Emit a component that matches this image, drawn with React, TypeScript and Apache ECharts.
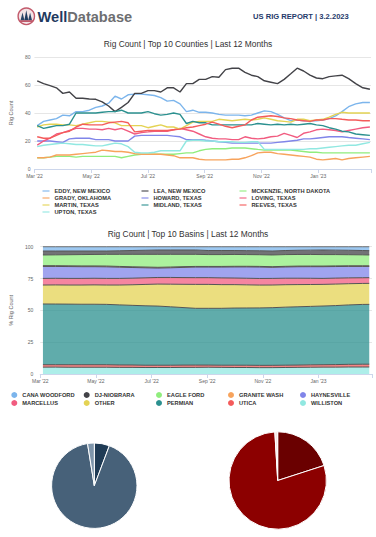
import React, { useEffect, useRef } from "react";
import * as echarts from "echarts";

// ---------- DATA ----------
const WEEKS = [
  "2022-03-04","2022-03-11","2022-03-18","2022-03-25","2022-04-01","2022-04-08","2022-04-15","2022-04-22","2022-04-29",
  "2022-05-06","2022-05-13","2022-05-20","2022-05-27","2022-06-03","2022-06-10","2022-06-17","2022-06-24",
  "2022-07-01","2022-07-08","2022-07-15","2022-07-22","2022-07-29","2022-08-05","2022-08-12","2022-08-19","2022-08-26",
  "2022-09-02","2022-09-09","2022-09-16","2022-09-23","2022-09-30","2022-10-07","2022-10-14","2022-10-21","2022-10-28",
  "2022-11-04","2022-11-11","2022-11-18","2022-11-25","2022-12-02","2022-12-09","2022-12-16","2022-12-23","2022-12-30",
  "2023-01-06","2023-01-13","2023-01-20","2023-01-27","2023-02-03","2023-02-10","2023-02-17","2023-02-24"
];

const MONTH_LABELS = ["Mar '22", "May '22", "Jul '22", "Sep '22", "Nov '22", "Jan '23"];

const COUNTIES = [
  "EDDY, NEW MEXICO","LEA, NEW MEXICO","MCKENZIE, NORTH DAKOTA","GRADY, OKLAHOMA","HOWARD, TEXAS",
  "LOVING, TEXAS","MARTIN, TEXAS","MIDLAND, TEXAS","REEVES, TEXAS","UPTON, TEXAS"
];
const COUNTY_COLORS = ["#7cb5ec","#434348","#90ed7d","#f7a35c","#8085e9","#f15c80","#e4d354","#2b908f","#f45b5b","#91e8e1"];

const EDDY = [31,34,35,36,38.5,38,41,41,42,44,45,47,52,50,53,53.5,53.5,53,52.5,51,48.5,49,46.5,
  41,42,40.5,40.5,40,39,38.5,38.5,38.5,38,38.5,40,41.5,41,39,36.5,34.5,35,34.5,34.5,34.5,35,36,38,41,44.5,46.5,47.5,47.5];
const LEA = [63,61,59.5,58,54,55,50.5,50.5,50,49.8,48,45,41,44,47.5,54,54,56,56,55,58,58,55,61,61,
  64,64,66,65.5,71,72,72,69,67,66,63,62,61,64,68,72,70,67,65,64.5,66,66.5,67,64.5,61,58,57];
const MCKENZIE = [8,8,8.5,9,9,9,8.5,9,9,9,9,9,9,8,9,10,10.5,10.5,10.5,10.5,10.5,10.5,11,11.5,11.5,
  13,14,14.5,14.5,14.5,15,15,15,14.5,14,13.5,13.5,13.5,13.5,13.5,13,12.5,12,12,11.5,11.5,11.5,11.5,11.5,11.5,11.5,11.5];
const GRADY = [8,8,8.5,10,10,10,10.5,11,11.5,12,13.5,13,12.5,12.5,12,11,10.5,10.5,10.5,10.5,10,9.5,8,8,8,
  7,6.5,6.5,6.5,6.5,7,7,8,9.5,11.5,12,12,11,10.5,10,9.5,9,8.5,7,6.5,7,7.5,6.5,7.5,8,8.5,9];
const HOWARD = [20,20,20,19.5,19,21.5,22,22,22,21,21,21,20,20,20,23.5,24,24,24,24,24,23.5,23,21,21,
  21,20.5,20,19.5,19,18.5,18.5,18.5,18.5,18.5,18.5,18.5,19,19.5,20,20.5,21.5,21.5,22,22.5,23,23,23,22.5,22,21.5,21];
const LOVING = [17,20,22,25,26,27.5,29,29,28.5,28.5,28,29,28,29,27,25,26,26.5,27,27,27,28,29,28,27,
  25,23,22,21.5,21.5,21,21,23,22,21.5,22,23,23.5,25.5,24,22.5,25.5,26.5,28,28.5,28,27.5,26.5,27.5,28.5,29.5,30];
const MARTIN = [30,31.5,32,32,31.5,31.5,31,32,33,34,34,33.5,33,31,31,31,31,29.5,30.5,31.5,30,30,28.5,31,33.5,
  34,34,34,35.5,35,34.5,35,35.5,35,35.5,36.5,35.5,34.5,34,33.5,35.5,35.5,34.5,35,35.5,37,39,40.5,40,40,40,40];
const MIDLAND = [31,29,30,31,31,32,40,40,40,40,40.5,41,41,42,40,40,40,41,39.5,38.5,39,40,39,32.5,34,
  33,33,31.5,31.5,31.5,31.5,31.5,31.5,31.5,32.5,32,31.5,32,31.5,32,31.5,32,32.5,31.5,31,29.5,28.5,27,26.5,25,24.5,24];
const REEVES = [23,22,22,24,26,27,30,32,31.5,31.5,31.5,33,33.5,34,33,26.5,27,27.5,27.5,27.5,27.5,28,28.5,29.5,30,
  31,32,33.5,32,30.5,29.5,30.5,31.5,35,37,37.5,38,37.5,36.5,36,35,34.5,34,35,35,36,36,35.5,35,35,34.5,34.5];
const UPTON = [16,17,17.5,18,18.5,18,17.5,17.5,17,16.5,16.5,17.5,18.5,18,16,12,11.5,11.5,12,13,13,13,13,20,20.5,
  20.5,20,20,19.5,19.5,19.5,19,19,19.5,19.5,14,14,14,14,14,14,14,14.5,14.5,15,15.5,16,16.5,17,17,18,19];
const COUNTY_VALUES = [EDDY, LEA, MCKENZIE, GRADY, HOWARD, LOVING, MARTIN, MIDLAND, REEVES, UPTON];

const BASIN_DATES = [
  "2022-03-04","2022-03-18","2022-04-01","2022-04-15","2022-04-29","2022-05-13","2022-05-27","2022-06-10","2022-06-24",
  "2022-07-08","2022-07-22","2022-08-05","2022-08-19","2022-09-02","2022-09-16","2022-09-30","2022-10-14","2022-10-28",
  "2022-11-11","2022-11-25","2022-12-09","2022-12-23","2023-01-06","2023-01-20","2023-02-03","2023-02-17","2023-02-24"
];
const BASINS = ["CANA WOODFORD","DJ-NIOBRARA","EAGLE FORD","GRANITE WASH","HAYNESVILLE","MARCELLUS","OTHER","PERMIAN","UTICA","WILLISTON"];
const BASIN_COLORS = ["#7cb5ec","#434348","#90ed7d","#f7a35c","#8085e9","#f15c80","#e4d354","#2b908f","#f45b5b","#91e8e1"];

const CANA_WOODFORD = [3.4,3.4,3.4,3.4,3.4,3.4,3.2,3.0,2.8,2.6,2.6,2.6,2.6,3.0,3.0,3.0,3.1,3.2,3.4,3.0,2.8,2.7,2.6,2.7,2.8,3.0,3.1];
const DJ_NIOBRARA = [3.1,3.0,2.9,2.8,2.7,2.6,2.8,3.0,3.2,3.4,3.4,3.4,3.4,3.2,3.2,3.1,3.1,3.1,3.1,3.2,3.3,3.4,3.6,3.5,3.5,3.4,3.4];
const EAGLE_FORD = [8.4,8.5,8.7,8.9,9.0,9.2,9.5,9.8,10.0,10.2,10.0,9.7,9.5,9.3,9.3,9.3,9.2,9.2,9.2,9.2,9.1,9.1,9.0,8.9,8.7,8.6,8.5];
const GRANITE_WASH = [0.6,0.6,0.6,0.6,0.6,0.6,0.6,0.6,0.6,0.6,0.6,0.6,0.5,0.5,0.5,0.5,0.5,0.5,0.5,0.5,0.5,0.5,0.5,0.5,0.5,0.5,0.5];
const HAYNESVILLE = [9.4,9.3,9.3,9.2,9.1,9.1,8.8,8.4,7.9,7.4,7.6,8.0,8.3,8.3,8.5,8.7,8.9,9.0,8.7,8.8,9.0,9.1,9.2,9.1,9.0,8.9,8.8];
const MARCELLUS = [5.2,5.2,5.2,5.2,5.2,5.2,5.2,5.2,5.2,5.2,5.3,5.3,5.3,5.3,5.3,5.2,5.2,5.2,5.2,5.1,5.0,4.9,4.7,4.7,4.6,4.5,4.5];
const OTHER = [14.9,15.0,15.0,15.1,15.2,15.2,15.6,16.2,16.8,17.3,17.8,18.3,18.8,18.8,18.6,18.4,18.2,18.0,17.8,17.6,17.4,17.2,17.0,16.9,16.7,16.5,16.5];
const PERMIAN = [47.7,47.6,47.6,47.5,47.5,47.4,47.2,47.0,46.8,46.5,46.0,45.3,44.6,44.6,44.7,44.9,45.0,45.2,45.3,45.5,45.7,45.9,46.1,46.4,46.7,47.0,47.0];
const UTICA = [1.9,1.9,2.0,2.0,2.0,2.0,1.9,1.9,1.8,1.8,1.8,1.8,1.8,1.7,1.7,1.8,1.8,1.8,1.8,1.8,1.8,1.9,1.9,2.0,2.1,2.2,2.2];
const WILLISTON = [5.4,5.4,5.3,5.3,5.3,5.3,5.2,5.2,5.1,5.1,5.1,5.2,5.2,5.3,5.2,5.1,5.1,5.0,5.0,5.1,5.2,5.3,5.4,5.4,5.5,5.5,5.5];
const BASIN_VALUES = [CANA_WOODFORD, DJ_NIOBRARA, EAGLE_FORD, GRANITE_WASH, HAYNESVILLE, MARCELLUS, OTHER, PERMIAN, UTICA, WILLISTON];

const TRAJECTORY_NAMES = ["Directional", "Horizontal", "Vertical"];
const TRAJECTORY_VALUES = [43, 687, 19];
const TRAJECTORY_COLORS = ["#1f3b55", "#476179", "#7e95ab"];

const TYPE_NAMES = ["Gas", "Oil", "Misc"];
const TYPE_VALUES = [150, 592, 7];
const TYPE_COLORS = ["#6a0000", "#8c0000", "#f6e6e6"];

// ---------- HELPERS ----------
const FONT = "'Liberation Sans', Arial, Helvetica, sans-serif";
const monthPos = (d: string) => {
  const [y, m, dd] = d.split("-").map(Number);
  const dim = new Date(y, m, 0).getDate();
  return (y - 2022) * 12 + (m - 3) + (dd - 1) / dim;
};
const monthLabel = (v: number) => {
  const i = Math.round(v / 2);
  return Math.abs(v - i * 2) < 1e-6 && MONTH_LABELS[i] ? MONTH_LABELS[i] : "";
};

export default function App() {
  const ref = useRef<HTMLDivElement>(null);
  useEffect(() => {
    if (!ref.current) return;
    const chart = echarts.init(ref.current, undefined, { renderer: "svg" });

    const axisLabel = { fontSize: 5, color: "#666666", fontFamily: FONT };
    const xAxisCommon = {
      type: "value",
      min: 0,
      interval: 2,
      axisLine: { show: true, lineStyle: { color: "#ccd6eb", width: 1 } },
      axisTick: { show: true, length: 4, lineStyle: { color: "#ccd6eb" } },
      splitLine: { show: false },
      axisLabel: { ...axisLabel, margin: 4, formatter: monthLabel },
    };

    const countySeries = COUNTIES.map((name, k) => ({
      name,
      type: "line",
      xAxisIndex: 0,
      yAxisIndex: 0,
      color: COUNTY_COLORS[k],
      showSymbol: false,
      symbol: "none",
      lineStyle: { width: 1.4, color: COUNTY_COLORS[k] },
      data: WEEKS.map((d, i) => [monthPos(d), COUNTY_VALUES[k][i]]),
    }));

    // percent stacking (value first so that the y dimension is the stacked one)
    const totals = BASIN_DATES.map((_, i) => BASIN_VALUES.reduce((s, arr) => s + arr[i], 0));
    const basinSeries = BASINS.map((name, k) => ({
      name,
      type: "line",
      xAxisIndex: 1,
      yAxisIndex: 1,
      stack: "basins",
      color: BASIN_COLORS[k],
      itemStyle: { color: BASIN_COLORS[k] },
      showSymbol: false,
      symbol: "none",
      lineStyle: { width: 1, color: "#555555" },
      areaStyle: { color: BASIN_COLORS[k], opacity: 0.75 },
      encode: { x: 1, y: 0 },
      data: BASIN_DATES.map((d, i) => [(BASIN_VALUES[k][i] / totals[i]) * 100, monthPos(d)]),
    })).reverse();

    const countyCols = [
      { left: 42.5, names: [COUNTIES[0], COUNTIES[3], COUNTIES[6], COUNTIES[9]] },
      { left: 141.5, names: [COUNTIES[1], COUNTIES[4], COUNTIES[7]] },
      { left: 239.5, names: [COUNTIES[2], COUNTIES[5], COUNTIES[8]] },
    ];
    const basinCols = [
      { left: 11.3, names: [BASINS[0], BASINS[5]] },
      { left: 83.7, names: [BASINS[1], BASINS[6]] },
      { left: 156, names: [BASINS[2], BASINS[7]] },
      { left: 228, names: [BASINS[3], BASINS[8]] },
      { left: 300, names: [BASINS[4], BASINS[9]] },
    ];
    const legendText = { fontSize: 5.7, fontWeight: "bold", color: "#333333", fontFamily: FONT, lineHeight: 7 };
    const legends = [
      ...countyCols.map((c) => ({
        orient: "vertical",
        left: c.left,
        top: 187.5,
        itemWidth: 7,
        itemHeight: 2,
        itemGap: 0,
        icon: "rect",
        selectedMode: false,
        padding: 0,
        itemStyle: { opacity: 0.55 },
        textStyle: legendText,
        data: c.names,
      })),
      ...basinCols.map((c) => ({
        orient: "vertical",
        left: c.left,
        top: 391.5,
        itemWidth: 6,
        itemHeight: 6,
        itemGap: 1,
        icon: "circle",
        selectedMode: false,
        padding: 0,
        textStyle: legendText,
        data: c.names,
      })),
    ];

    const option: any = {
      animation: false,
      backgroundColor: "#ffffff",
      textStyle: { fontFamily: FONT },
      legend: legends,
      grid: [
        { left: 26, top: 57, width: 345, height: 112, containLabel: false },
        { left: 30, top: 246.7, width: 342, height: 127.3, containLabel: false },
      ],
      xAxis: [
        { ...xAxisCommon, gridIndex: 0, max: 11.86 },
        { ...xAxisCommon, gridIndex: 1, max: 11.92 },
      ],
      yAxis: [
        {
          type: "value",
          gridIndex: 0,
          min: 0,
          max: 80,
          interval: 20,
          axisLine: { show: false },
          axisTick: { show: false },
          splitLine: { lineStyle: { color: "#e6e6e6", width: 1 } },
          axisLabel: { ...axisLabel, margin: 4 },
          name: "Rig Count",
          nameLocation: "middle",
          nameRotate: 90,
          nameGap: 18,
          nameTextStyle: { fontSize: 5.5, color: "#666666", fontFamily: FONT },
        },
        {
          type: "value",
          gridIndex: 1,
          min: 0,
          max: 100,
          interval: 25,
          axisLine: { show: false },
          axisTick: { show: false },
          splitLine: { lineStyle: { color: "#e6e6e6", width: 1 } },
          axisLabel: { ...axisLabel, margin: 7 },
          name: "% Rig Count",
          nameLocation: "middle",
          nameRotate: 90,
          nameGap: 22,
          nameTextStyle: { fontSize: 5.5, color: "#666666", fontFamily: FONT },
        },
      ],
      series: [
        ...countySeries,
        ...basinSeries,
        {
          type: "pie",
          name: "Trajectory",
          center: [94.3, 485.7],
          radius: 42.7,
          startAngle: 90,
          clockwise: true,
          label: { show: false },
          labelLine: { show: false },
          emphasis: { disabled: true },
          itemStyle: { borderColor: "#ffffff", borderWidth: 1 },
          data: TRAJECTORY_NAMES.map((n, i) => ({ name: n, value: TRAJECTORY_VALUES[i], itemStyle: { color: TRAJECTORY_COLORS[i] } })),
        },
        {
          type: "pie",
          name: "Type",
          center: [277.7, 480.5],
          radius: 48.7,
          startAngle: 90,
          clockwise: true,
          label: { show: false },
          labelLine: { show: false },
          emphasis: { disabled: true },
          itemStyle: { borderColor: "#ffffff", borderWidth: 1 },
          data: TYPE_NAMES.map((n, i) => ({ name: n, value: TYPE_VALUES[i], itemStyle: { color: TYPE_COLORS[i] } })),
        },
      ],
      graphic: [
        { type: "circle", shape: { cx: 26.3, cy: 16.3, r: 8.2 }, style: { fill: "#f3e3e6", stroke: "#c25a6b", lineWidth: 1.4 } },
        { type: "polygon", shape: { points: [[20.5, 20.5], [22.5, 12.5], [24.5, 20.5]] }, style: { fill: "#2a4466" } },
        { type: "polygon", shape: { points: [[24.3, 20.5], [26.3, 10.2], [28.3, 20.5]] }, style: { fill: "#1f3a5f" } },
        { type: "polygon", shape: { points: [[28.1, 20.5], [30.1, 12.8], [32.1, 20.5]] }, style: { fill: "#2a4466" } },
        { type: "rect", shape: { x: 19.5, y: 20.3, width: 13.6, height: 1.8 }, style: { fill: "#c25a6b" } },
        {
          type: "text",
          x: 37.5,
          y: 16.5,
          style: {
            text: "{a|Well}{b|Database}",
            textVerticalAlign: "middle",
            rich: {
              a: { fontSize: 14.6, fontWeight: "bold", fill: "#1f3a5f", fontFamily: FONT },
              b: { fontSize: 14.6, fontWeight: "bold", fill: "#6d6e71", fontFamily: FONT },
            },
          },
        },
        {
          type: "text",
          x: 253,
          y: 16.5,
          style: {
            text: "US RIG REPORT | 3.2.2023",
            fontSize: 7.6,
            fontWeight: "bold",
            fill: "#1f3a6b",
            fontFamily: FONT,
            textVerticalAlign: "middle",
          },
        },
        {
          type: "text",
          x: 188,
          y: 43.5,
          style: {
            text: "Rig Count | Top 10 Counties | Last 12 Months",
            fontSize: 8.4,
            fill: "#333333",
            fontFamily: FONT,
            textAlign: "center",
            textVerticalAlign: "middle",
          },
        },
        {
          type: "text",
          x: 188,
          y: 234,
          style: {
            text: "Rig Count | Top 10 Basins | Last 12 Months",
            fontSize: 8.4,
            fill: "#333333",
            fontFamily: FONT,
            textAlign: "center",
            textVerticalAlign: "middle",
          },
        },
      ],
    };
    chart.setOption(option);
    return () => chart.dispose();
  }, []);

  return (
    <div
      ref={ref}
      style={{ position: "fixed", left: 0, top: 0, width: 376, height: 537, background: "#ffffff" }}
    />
  );
}
